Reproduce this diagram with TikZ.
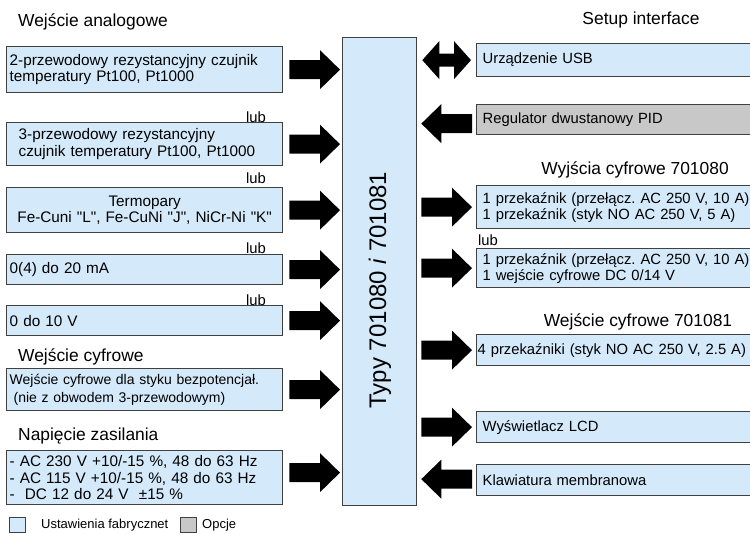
\documentclass[tikz,border=0pt]{standalone}
\usepackage{fontspec}
\setmainfont{Liberation Sans}[Ligatures=TeXOff]
\usetikzlibrary{calc}
\definecolor{blu}{RGB}{212,234,250}
\definecolor{gry}{RGB}{200,200,200}
\definecolor{bord}{RGB}{64,64,64}
\frenchspacing
\newcommand\bxf{\fontsize{15.3}{16.5}\selectfont}
\newcommand\rxf{\fontsize{14.8}{16}\selectfont}
\newcommand\ttf{\fontsize{17.4}{20}\selectfont}
\newcommand\ArR[2]{\fill let \p1=(#1), \p2=(#2) in (\x1,\y1+9.5pt) -- (\x2-20pt,\y1+9.5pt) -- (\x2-20pt,\y1+19.5pt) -- (\x2,\y1) -- (\x2-20pt,\y1-19.5pt) -- (\x2-20pt,\y1-9.5pt) -- (\x1,\y1-9.5pt) -- cycle;}
\newcommand\ArL[2]{\fill let \p1=(#1), \p2=(#2) in (\x1,\y1+9.5pt) -- (\x2+20pt,\y1+9.5pt) -- (\x2+20pt,\y1+19.5pt) -- (\x2,\y1) -- (\x2+20pt,\y1-19.5pt) -- (\x2+20pt,\y1-9.5pt) -- (\x1,\y1-9.5pt) -- cycle;}
\newcommand\ArD[2]{\fill let \p1=(#1), \p2=(#2) in (\x1,\y1) -- (\x1+17pt,\y1+19pt) -- (\x1+17pt,\y1+6.5pt) -- (\x2-17pt,\y1+6.5pt) -- (\x2-17pt,\y1+19pt) -- (\x2,\y1) -- (\x2-17pt,\y1-19pt) -- (\x2-17pt,\y1-6.5pt) -- (\x1+17pt,\y1-6.5pt) -- (\x1+17pt,\y1-19pt) -- cycle;}
\begin{document}
\begin{tikzpicture}[x=1pt,y=-1pt,
 box/.style={draw=bord, line width=1.3pt, fill=blu, inner ysep=0pt, anchor=north west, align=left},
 lbox/.style={box, inner xsep=3pt, text width=270pt, minimum height=#1, font=\bxf},
 rbox/.style={box, inner xsep=6pt, text width=272pt, minimum height=#1, font=\rxf},
 title/.style={font=\ttf, inner sep=0pt},
 lub/.style={font=\rxf, inner sep=0pt},
 leg/.style={draw=bord, line width=1pt, minimum width=16pt, minimum height=15pt, inner sep=0pt},
 legt/.style={anchor=west, inner sep=0pt, font=\fontsize{13}{15}\selectfont}]
\useasboundingbox (0,0) rectangle (750,534);
\clip (0,0) rectangle (750,534);
% central block
\node[draw=bord, line width=1.3pt, fill=blu, minimum width=74pt, minimum height=468pt, inner sep=0pt, anchor=north west] (C) at (342,37) {};
\node[rotate=90, inner sep=0pt, font=\fontsize{24}{28}\selectfont] (CT) at (380,290) {Typy 701080 \textit{i} 701081};
% titles
\node[title, anchor=west] (tWA) at (18,22) {Wejście analogowe};
\node[title] (tSI) at (641,20) {Setup interface};
\node[title] (tW80) at (635,170) {Wyjścia cyfrowe 701080};
\node[title] (tW81) at (638,322) {Wejście cyfrowe 701081};
\node[title, anchor=west] (tWC) at (18,357) {Wejście cyfrowe};
\node[title, anchor=west] (tNZ) at (18,436) {Napięcie zasilania};
% left boxes
\node[lbox=46pt] (L1) at (6,46) {2-przewodowy rezystancyjny czujnik\\temperatury Pt100, Pt1000};
\node[lbox=43pt] (L2) at (6,122) {\hspace*{9pt}3-przewodowy rezystancyjny\\\hspace*{9pt}czujnik temperatury Pt100, Pt1000};
\node[lbox=45pt, align=center] (L3) at (6,187) {Termopary\\Fe-Cuni "L", Fe-CuNi "J", NiCr-Ni "K"};
\node[lbox=30pt] (L4) at (6,254) {0(4) do 20 mA};
\node[lbox=30pt] (L5) at (6,305) {0 do 10 V};
\node[lbox=42pt, font=\fontsize{14}{18}\selectfont] (L6) at (6,368) {Wejście cyfrowe dla styku bezpotencjał.\\\hspace*{4pt}(nie z obwodem 3-przewodowym)};
\node[lbox=54pt] (L7) at (6,450) {- AC 230 V +10/-15 \%, 48 do 63 Hz\\- AC 115 V +10/-15 \%, 48 do 63 Hz\\-\ \ DC 12 do 24 V\ \ ±15 \%};
% lub labels
\node[lub, anchor=east] (lub1) at (266,117) {lub};
\node[lub, anchor=east] (lub2) at (266,178) {lub};
\node[lub, anchor=east] (lub3) at (266,248) {lub};
\node[lub, anchor=east] (lub4) at (266,300) {lub};
\node[lub, anchor=west] (lub5) at (478,240) {lub};
% right boxes
\node[rbox=33pt] (R1) at (476,43) {Urządzenie USB};
\node[rbox=30pt, fill=gry] (R2) at (476,104) {Regulator dwustanowy PID};
\node[rbox=43pt] (R3) at (476,185) {1 przekaźnik (przełącz. AC 250 V, 10 A)\\1 przekaźnik (styk NO AC 250 V, 5 A)};
\node[rbox=39pt] (R4) at (476,248) {1 przekaźnik (przełącz. AC 250 V, 10 A)\\1 wejście cyfrowe DC 0/14 V};
\node[rbox=31pt] (R5) at (476,334) {\hspace*{-5pt}4 przekaźniki (styk NO AC 250 V, 2.5 A)};
\node[rbox=31pt] (R6) at (476,411) {Wyświetlacz LCD};
\node[rbox=31pt] (R7) at (476,464) {Klawiatura membranowa};
% left arrows
\ArR{$(L1.east)+(6,0)$}{$(C.west)+(-2,0)$}
\ArR{$(L2.east)+(6,0)$}{$(C.west)+(-2,0)$}
\ArR{$(L3.east)+(6,0)$}{$(C.west)+(-2,0)$}
\ArR{$(L4.east)+(6,0)$}{$(C.west)+(-2,0)$}
\ArR{$(L5.east)+(6,0)$}{$(C.west)+(-2,0)$}
\ArR{$(L6.east)+(6,0)$}{$(C.west)+(-2,0)$}
\ArR{$(L7.east)+(6,-5)$}{$(C.west)+(-2,0)$}
% right arrows
\ArD{$(C.east|-R1.west)+(5,0)$}{$(R1.west)+(-5,0)$}
\ArL{$(R2.west)+(-4,4)$}{$(C.east)+(4,0)$}
\ArR{$(C.east|-R3.west)+(4,0)$}{$(R3.west)+(-4,0)$}
\ArR{$(C.east|-R4.west)+(4,0)$}{$(R4.west)+(-4,0)$}
\ArR{$(C.east|-R5.west)+(4,0)$}{$(R5.west)+(-4,0)$}
\ArR{$(C.east|-R6.west)+(4,0)$}{$(R6.west)+(-4,0)$}
\ArL{$(R7.west)+(-4,-1)$}{$(C.east)+(4,0)$}
% legend
\node[leg, fill=blu] (lg1) at (17,525) {};
\node[legt] (lg1t) at (41,525) {Ustawienia fabrycznet};
\node[leg, fill=gry] (lg2) at (188,525) {};
\node[legt] (lg2t) at (202,525) {Opcje};
\end{tikzpicture}
\end{document}
